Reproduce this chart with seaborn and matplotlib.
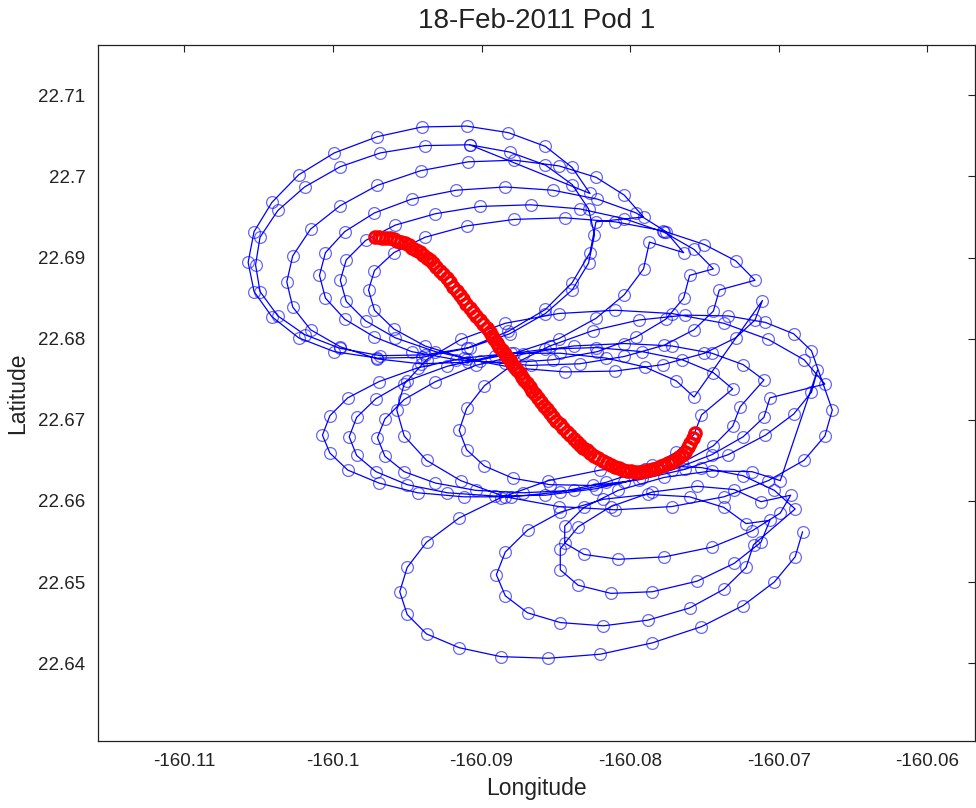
import numpy as np
import pandas as pd
import matplotlib
matplotlib.use("Agg")
import matplotlib.pyplot as plt
import seaborn as sns

# Blue track, read loop by loop (lower group -> middle group -> upper group, ends at top)
b1_lon = [-160.0684, -160.0689, -160.0703, -160.0724, -160.0752, -160.0785, -160.0820, -160.0855, -160.0887, -160.0915, -160.0937, -160.0950,
          -160.0955, -160.0950, -160.0937, -160.0915, -160.0887, -160.0855, -160.0820, -160.0785, -160.0752, -160.0724, -160.0703, -160.0689]
b1_lat = [22.6562, 22.6531, 22.6500, 22.6471, 22.6445, 22.6425, 22.6411, 22.6406, 22.6408, 22.6419, 22.6436, 22.6460,
          22.6488, 22.6518, 22.6549, 22.6579, 22.6604, 22.6625, 22.6638, 22.6644, 22.6641, 22.6631, 22.6613, 22.6590]

b2_lon = [-160.0717, -160.0722, -160.0737, -160.0760, -160.0788, -160.0818, -160.0847, -160.0869, -160.0884,
          -160.0890, -160.0884, -160.0869, -160.0847, -160.0818, -160.0788, -160.0760, -160.0737, -160.0722]
b2_lat = [22.6546, 22.6518, 22.6491, 22.6468, 22.6453, 22.6446, 22.6450, 22.6462, 22.6483,
          22.6509, 22.6537, 22.6564, 22.6586, 22.6602, 22.6608, 22.6605, 22.6592, 22.6572]

b3_lon = [-160.0706, -160.0712, -160.0730, -160.0755, -160.0785, -160.0813, -160.0835, -160.0847,
          -160.0847, -160.0835, -160.0813, -160.0785, -160.0755, -160.0730, -160.0712]
b3_lat = [22.6576, 22.6549, 22.6523, 22.6501, 22.6488, 22.6486, 22.6496, 22.6515,
          22.6541, 22.6568, 22.6593, 22.6611, 22.6618, 22.6614, 22.6599]

b4_lon = [-160.0692, -160.0699, -160.0718, -160.0745, -160.0777, -160.0808, -160.0831, -160.0844,
          -160.0844, -160.0831, -160.0808, -160.0777, -160.0745, -160.0718, -160.0699]
b4_lat = [22.6607, 22.6585, 22.6563, 22.6543, 22.6531, 22.6528, 22.6534, 22.6548,
          22.6569, 22.6592, 22.6613, 22.6629, 22.6637, 22.6636, 22.6625]

m5_lon = [-160.0674, -160.0678, -160.0690, -160.0709, -160.0734, -160.0763, -160.0794, -160.0825, -160.0854, -160.0879, -160.0898, -160.0910,
          -160.0915, -160.0910, -160.0898, -160.0879, -160.0854, -160.0825, -160.0794, -160.0763, -160.0734, -160.0709, -160.0690, -160.0678]
m5_lat = [22.6761, 22.6734, 22.6707, 22.6681, 22.6657, 22.6639, 22.6626, 22.6619, 22.6620, 22.6628, 22.6643, 22.6663,
          22.6687, 22.6714, 22.6742, 22.6768, 22.6791, 22.6810, 22.6823, 22.6829, 22.6828, 22.6820, 22.6806, 22.6785]

m4_lon = [-160.0664, -160.0669, -160.0683, -160.0707, -160.0737, -160.0772, -160.0810, -160.0848, -160.0884, -160.0914, -160.0937, -160.0952,
          -160.0957, -160.0952, -160.0937, -160.0914, -160.0884, -160.0848, -160.0810, -160.0772, -160.0737, -160.0707, -160.0683, -160.0669]
m4_lat = [22.6712, 22.6680, 22.6650, 22.6625, 22.6605, 22.6593, 22.6589, 22.6593, 22.6605, 22.6625, 22.6650, 22.6680,
          22.6712, 22.6744, 22.6774, 22.6799, 22.6819, 22.6831, 22.6835, 22.6831, 22.6819, 22.6799, 22.6774, 22.6744]

m3_lon = [-160.0706, -160.0710, -160.0724, -160.0745, -160.0772, -160.0804, -160.0838, -160.0872, -160.0904, -160.0931, -160.0952, -160.0965,
          -160.0970, -160.0965, -160.0952, -160.0931, -160.0904, -160.0872, -160.0838, -160.0804, -160.0772, -160.0745, -160.0724, -160.0710]
m3_lat = [22.6727, 22.6703, 22.6679, 22.6657, 22.6638, 22.6623, 22.6613, 22.6610, 22.6613, 22.6622, 22.6636, 22.6655,
          22.6678, 22.6701, 22.6725, 22.6747, 22.6767, 22.6781, 22.6791, 22.6794, 22.6791, 22.6782, 22.6768, 22.6749]

m2_lon = [-160.0726, -160.0731, -160.0744, -160.0765, -160.0792, -160.0823, -160.0857, -160.0891, -160.0923, -160.0950, -160.0971, -160.0984,
          -160.0989, -160.0984, -160.0971, -160.0950, -160.0923, -160.0891, -160.0857, -160.0823, -160.0792, -160.0765, -160.0744, -160.0731]
m2_lat = [22.6716, 22.6692, 22.6668, 22.6647, 22.6628, 22.6615, 22.6607, 22.6606, 22.6610, 22.6620, 22.6636, 22.6656,
          22.6679, 22.6703, 22.6726, 22.6748, 22.6766, 22.6779, 22.6787, 22.6789, 22.6784, 22.6774, 22.6758, 22.6738]

m1_lon = [-160.0752, -160.0757, -160.0769, -160.0790, -160.0816, -160.0847, -160.0880, -160.0912, -160.0943, -160.0969, -160.0990, -160.1002,
          -160.1007, -160.1002, -160.0990, -160.0969, -160.0943, -160.0912, -160.0880, -160.0847, -160.0816, -160.0790, -160.0769, -160.0757]
m1_lat = [22.6706, 22.6682, 22.6660, 22.6639, 22.6623, 22.6611, 22.6605, 22.6605, 22.6610, 22.6622, 22.6638, 22.6659,
          22.6681, 22.6705, 22.6727, 22.6747, 22.6764, 22.6776, 22.6782, 22.6782, 22.6776, 22.6765, 22.6748, 22.6728]

u6_lon = [-160.0711, -160.0716, -160.0729, -160.0750, -160.0778, -160.0810, -160.0844, -160.0878, -160.0910, -160.0938, -160.0959, -160.0972,
          -160.0976, -160.0972, -160.0959, -160.0938, -160.0910, -160.0878, -160.0844, -160.0810, -160.0778, -160.0750, -160.0729, -160.0716]
u6_lat = [22.6847, 22.6823, 22.6801, 22.6782, 22.6768, 22.6760, 22.6759, 22.6764, 22.6775, 22.6791, 22.6812, 22.6835,
          22.6860, 22.6884, 22.6906, 22.6925, 22.6939, 22.6947, 22.6949, 22.6944, 22.6933, 22.6916, 22.6896, 22.6872]

u5_lon = [-160.0740, -160.0744, -160.0757, -160.0777, -160.0804, -160.0834, -160.0867, -160.0901, -160.0931, -160.0958, -160.0978, -160.0991,
          -160.0995, -160.0991, -160.0978, -160.0958, -160.0931, -160.0901, -160.0867, -160.0834, -160.0804, -160.0777, -160.0757, -160.0744]
u5_lat = [22.6860, 22.6834, 22.6811, 22.6792, 22.6778, 22.6769, 22.6767, 22.6772, 22.6784, 22.6801, 22.6822, 22.6846,
          22.6872, 22.6897, 22.6921, 22.6940, 22.6954, 22.6963, 22.6965, 22.6960, 22.6948, 22.6931, 22.6910, 22.6886]

u4_lon = [-160.0760, -160.0764, -160.0776, -160.0796, -160.0822, -160.0852, -160.0884, -160.0917, -160.0947, -160.0972, -160.0992, -160.1005,
          -160.1009, -160.1005, -160.0992, -160.0972, -160.0947, -160.0917, -160.0884, -160.0852, -160.0822, -160.0796, -160.0776, -160.0764]
u4_lat = [22.6878, 22.6850, 22.6824, 22.6802, 22.6784, 22.6774, 22.6770, 22.6774, 22.6784, 22.6802, 22.6824, 22.6850,
          22.6878, 22.6906, 22.6932, 22.6955, 22.6972, 22.6983, 22.6987, 22.6983, 22.6972, 22.6955, 22.6932, 22.6906]

u3_lon = [-160.0787, -160.0791, -160.0804, -160.0823, -160.0848, -160.0878, -160.0909, -160.0941, -160.0970, -160.0995, -160.1015, -160.1027,
          -160.1031, -160.1027, -160.1015, -160.0995, -160.0970, -160.0941, -160.0909, -160.0878, -160.0848, -160.0823, -160.0804, -160.0791]
u3_lat = [22.6919, 22.6886, 22.6854, 22.6825, 22.6800, 22.6782, 22.6771, 22.6769, 22.6775, 22.6790, 22.6811, 22.6839,
          22.6870, 22.6902, 22.6935, 22.6964, 22.6989, 22.7007, 22.7018, 22.7020, 22.7013, 22.6999, 22.6977, 22.6950]

u1_lon = [-160.0823, -160.0827, -160.0839, -160.0857, -160.0882, -160.0910, -160.0940, -160.0970, -160.0999, -160.1023, -160.1041, -160.1053,
          -160.1057, -160.1053, -160.1041, -160.1023, -160.0999, -160.0970, -160.0940, -160.0910, -160.0882, -160.0857, -160.0839, -160.0827]
u1_lat = [22.6944, 22.6906, 22.6869, 22.6836, 22.6809, 22.6788, 22.6777, 22.6776, 22.6784, 22.6801, 22.6827, 22.6858,
          22.6894, 22.6932, 22.6968, 22.7002, 22.7029, 22.7049, 22.7061, 22.7062, 22.7054, 22.7037, 22.7011, 22.6979]

u2_lon = [-160.0908, -160.0881, -160.0857, -160.0839, -160.0828, -160.0824, -160.0828, -160.0839, -160.0857, -160.0881, -160.0908, -160.0938,
          -160.0968, -160.0995, -160.1019, -160.1037, -160.1049, -160.1052, -160.1049, -160.1037, -160.1019, -160.0995, -160.0968, -160.0938, -160.0908]
u2_lat = [22.7039, 22.7030, 22.7014, 22.6990, 22.6960, 22.6928, 22.6893, 22.6860, 22.6831, 22.6806, 22.6789, 22.6780,
          22.6779, 22.6788, 22.6805, 22.6828, 22.6858, 22.6891, 22.6925, 22.6958, 22.6987, 22.7012, 22.7029, 22.7038, 22.7039]

# Red track (dense markers along the S curve)
red_lon = [-160.09717, -160.09692, -160.09667, -160.09641, -160.09616, -160.09591, -160.09566, -160.09540,
           -160.09515, -160.09490, -160.09465, -160.09439, -160.09414, -160.09392, -160.09370, -160.09348,
           -160.09326, -160.09303, -160.09279, -160.09256, -160.09232, -160.09210, -160.09189, -160.09167,
           -160.09145, -160.09123, -160.09101, -160.09079, -160.09057, -160.09034, -160.09010, -160.08987,
           -160.08963, -160.08946, -160.08930, -160.08913, -160.08896, -160.08879, -160.08862, -160.08845,
           -160.08828, -160.08811, -160.08795, -160.08778, -160.08761, -160.08744, -160.08728, -160.08711,
           -160.08694, -160.08676, -160.08657, -160.08639, -160.08620, -160.08600, -160.08580, -160.08559,
           -160.08539, -160.08517, -160.08496, -160.08474, -160.08452, -160.08428, -160.08405, -160.08381,
           -160.08357, -160.08335, -160.08314, -160.08292, -160.08270, -160.08241, -160.08213, -160.08184,
           -160.08155, -160.08128, -160.08102, -160.08075, -160.08048, -160.08019, -160.07991, -160.07962,
           -160.07933, -160.07905, -160.07876, -160.07848, -160.07819, -160.07794, -160.07769, -160.07743,
           -160.07718, -160.07696, -160.07674, -160.07652, -160.07630, -160.07613, -160.07597, -160.07580,
           -160.07563]
red_lat = [22.69251, 22.69248, 22.69245, 22.69241, 22.69238, 22.69223, 22.69208, 22.69192,
           22.69177, 22.69149, 22.69122, 22.69094, 22.69066, 22.69032, 22.68998, 22.68964,
           22.68930, 22.68884, 22.68838, 22.68791, 22.68745, 22.68693, 22.68641, 22.68588,
           22.68536, 22.68484, 22.68432, 22.68379, 22.68327, 22.68278, 22.68228, 22.68179,
           22.68130, 22.68084, 22.68038, 22.67991, 22.67945, 22.67902, 22.67859, 22.67815,
           22.67772, 22.67732, 22.67692, 22.67652, 22.67612, 22.67572, 22.67532, 22.67492,
           22.67452, 22.67406, 22.67360, 22.67313, 22.67267, 22.67221, 22.67175, 22.67128,
           22.67082, 22.67036, 22.66990, 22.66943, 22.66897, 22.66854, 22.66811, 22.66768,
           22.66725, 22.66691, 22.66657, 22.66623, 22.66589, 22.66558, 22.66528, 22.66497,
           22.66466, 22.66445, 22.66423, 22.66402, 22.66380, 22.66374, 22.66368, 22.66361,
           22.66355, 22.66368, 22.66380, 22.66393, 22.66405, 22.66424, 22.66442, 22.66461,
           22.66479, 22.66510, 22.66541, 22.66571, 22.66602, 22.66661, 22.66719, 22.66778,
           22.66836]

x_ticks = [-160.11, -160.10, -160.09, -160.08, -160.07, -160.06]
x_tick_labels = ["-160.11", "-160.1", "-160.09", "-160.08", "-160.07", "-160.06"]
y_ticks = [22.64, 22.65, 22.66, 22.67, 22.68, 22.69, 22.70, 22.71]
y_tick_labels = ["22.64", "22.65", "22.66", "22.67", "22.68", "22.69", "22.7", "22.71"]

loops = [(b1_lon, b1_lat), (b2_lon, b2_lat), (b3_lon, b3_lat), (b4_lon, b4_lat),
         (m5_lon, m5_lat), (m4_lon, m4_lat), (m3_lon, m3_lat), (m2_lon, m2_lat), (m1_lon, m1_lat),
         (u6_lon, u6_lat), (u5_lon, u5_lat), (u4_lon, u4_lat), (u3_lon, u3_lat), (u1_lon, u1_lat), (u2_lon, u2_lat)]
blue_df = pd.DataFrame({"lon": np.concatenate([l[0] for l in loops]),
                        "lat": np.concatenate([l[1] for l in loops])})
red_df = pd.DataFrame({"lon": red_lon, "lat": red_lat})

sns.set_theme(style="white")
plt.rcParams["font.family"] = ["Liberation Sans", "DejaVu Sans"]

fig = plt.figure(figsize=(9.76, 8.08), dpi=100)
ax = fig.add_axes([98 / 976, 1 - 741 / 808, (975 - 98) / 976, (741 - 45) / 808])

sns.lineplot(data=blue_df, x="lon", y="lat", sort=False, estimator=None, ax=ax,
             color="blue", linewidth=0.9, marker="o", markersize=8.5,
             markerfacecolor="none", markeredgecolor=(0, 0, 1, 0.6), markeredgewidth=0.9)
sns.lineplot(data=red_df, x="lon", y="lat", sort=False, estimator=None, ax=ax,
             color="red", linestyle="none", marker="o", markersize=8.3,
             markerfacecolor="none", markeredgecolor="red", markeredgewidth=2.2)

ax.set_xlim(-160.1158, -160.0568)
ax.set_ylim(22.6304, 22.7162)
ax.set_xticks(x_ticks)
ax.set_xticklabels(x_tick_labels)
ax.set_yticks(y_ticks)
ax.set_yticklabels(y_tick_labels)
ax.tick_params(direction="in", length=5, width=0.8, top=True, right=True,
               labelsize=13.5, pad=9, colors="#222222")
for sp in ax.spines.values():
    sp.set_color("#222222")
    sp.set_linewidth(0.9)

ax.set_xlabel("Longitude", fontsize=16.5, color="#222222")
ax.set_ylabel("Latitude", fontsize=16.5, color="#222222")
ax.xaxis.set_label_coords(0.5, -0.052)
ax.yaxis.set_label_coords(-0.078, 0.5)
ax.set_title("18-Feb-2011 Pod 1", fontsize=20, color="#222222", pad=12)

fig.savefig("out.png", dpi=100)
